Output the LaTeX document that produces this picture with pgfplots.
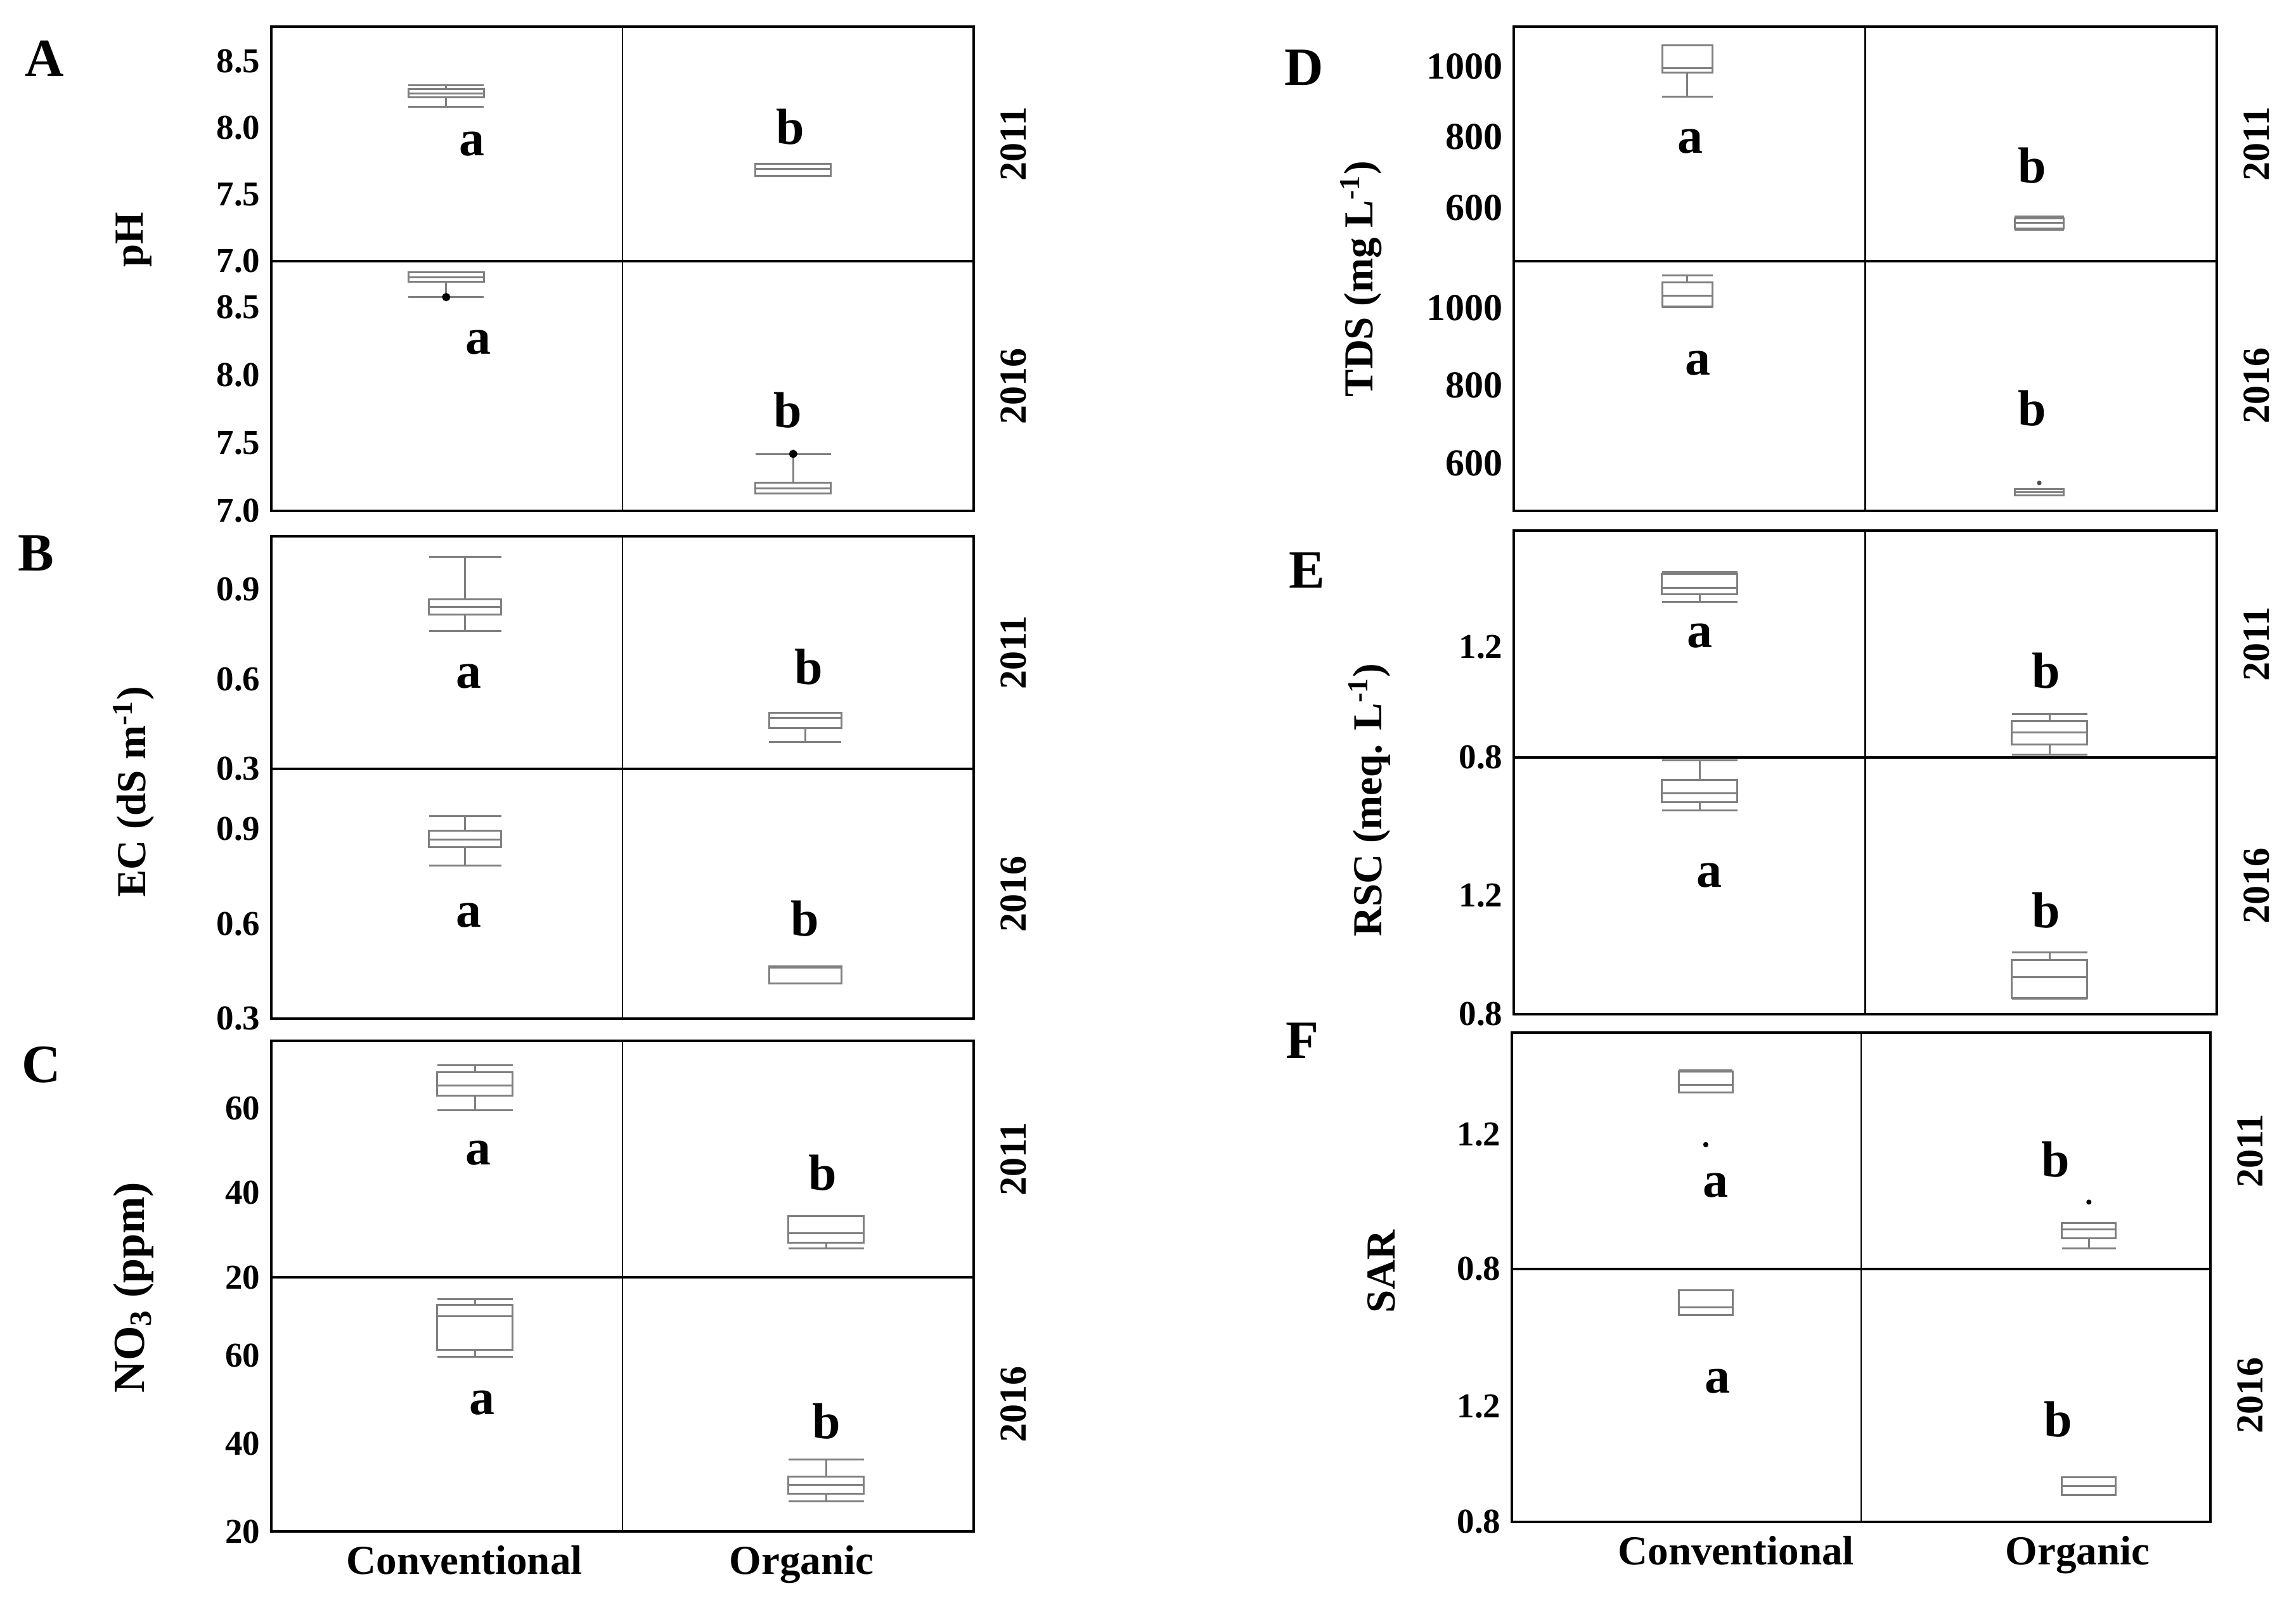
\documentclass[border=0pt]{standalone}
\usepackage{fontspec}
\setmainfont{Liberation Serif}
\usepackage{pgfplots}
\pgfplotsset{compat=1.18}
\usepgfplotslibrary{statistics}

\pgfplotsset{
  panel/.style={
    scale only axis, xmin=0, xmax=2,
    xtick=\empty,
    axis line style={black, line width=0.7pt},
    major tick length=0pt,
    /pgf/number format/assume math mode=true,
    yticklabel style={font=\fontsize{11}{12}\selectfont\bfseries, /pgf/number format/fixed, /pgf/number format/fixed zerofill, /pgf/number format/precision=1, /pgf/number format/1000 sep={}},
    extra x ticks={1}, extra x tick labels={},
    extra x tick style={grid=major, major grid style={black, line width=0.45pt}},
    clip=false,
    boxplot/draw direction=y,
  },
  intpanel/.style={yticklabel style={/pgf/number format/fixed zerofill=false, /pgf/number format/precision=0}},
  botpanel/.style={xtick={#1}, xticklabels={Conventional,Organic},
    xticklabel style={font=\fontsize{13}{14}\selectfont\bfseries, yshift=-1pt}},
}
\newcommand{\bx}[7]{\addplot[draw=black!50, line width=0.6pt,
  boxplot prepared={draw direction=y, draw position=#1, box extend=#2, whisker extend=#2,
  lower whisker=#3, lower quartile=#4, median=#5, upper quartile=#6, upper whisker=#7}] coordinates {};}
\newcommand{\lt}[3]{\node[font=\fontsize{16}{17}\selectfont\bfseries] at (axis cs:#1,#2) {#3};}
\newcommand{\yr}[1]{\node[rotate=90, font=\fontsize{12}{13}\selectfont\bfseries] at (rel axis cs:1.057,0.5) {#1};}

\begin{document}
\begin{tikzpicture}
\useasboundingbox (0,0) rectangle (724.4pt,504pt);

% ---------------- A: pH ----------------
\begin{axis}[panel, at={(85.6pt,421.6pt)}, anchor=south west, width=221.6pt, height=74pt,
  ymin=7, ymax=8.76, ytick={7,7.5,8,8.5}]
\bx{0.498}{0.215}{8.16}{8.23}{8.26}{8.29}{8.32}
\bx{1.486}{0.215}{7.64}{7.64}{7.69}{7.73}{7.73}
\lt{0.572}{7.88}{a}\lt{1.478}{8.01}{b}
\yr{2011}
\end{axis}
\begin{axis}[panel, at={(85.6pt,342.8pt)}, anchor=south west, width=221.6pt, height=78.8pt,
  ymin=7, ymax=8.84, ytick={7,7.5,8,8.5}]
\bx{0.498}{0.215}{8.575}{8.69}{8.72}{8.76}{8.76}
\bx{1.486}{0.215}{7.13}{7.13}{7.165}{7.21}{7.42}
\addplot[only marks, mark=*, mark size=1.1pt, black] coordinates {(0.498,8.575) (1.486,7.42)};
\lt{0.59}{8.24}{a}\lt{1.471}{7.74}{b}
\yr{2016}
\end{axis}

% ---------------- B: EC ----------------
\begin{axis}[panel, at={(85.6pt,261.4pt)}, anchor=south west, width=221.6pt, height=73.4pt,
  ymin=0.3, ymax=1.076, ytick={0.3,0.6,0.9}]
\bx{0.552}{0.206}{0.759}{0.815}{0.841}{0.866}{1.008}
\bx{1.52}{0.206}{0.39}{0.436}{0.47}{0.487}{0.487}
\lt{0.563}{0.609}{a}\lt{1.53}{0.64}{b}
\yr{2011}
\end{axis}
\begin{axis}[panel, at={(85.6pt,182.6pt)}, anchor=south west, width=221.6pt, height=78.8pt,
  ymin=0.3, ymax=1.09, ytick={0.3,0.6,0.9}]
\bx{0.552}{0.206}{0.785}{0.842}{0.867}{0.894}{0.941}
\bx{1.52}{0.206}{0.411}{0.411}{0.461}{0.466}{0.466}
\lt{0.563}{0.627}{a}\lt{1.52}{0.616}{b}
\yr{2016}
\end{axis}

% ---------------- C: NO3 ----------------
\begin{axis}[panel, intpanel, at={(85.6pt,101pt)}, anchor=south west, width=221.6pt, height=74.6pt,
  ymin=20, ymax=76, ytick={20,40,60}]
\bx{0.58}{0.215}{59.6}{63.0}{65.4}{68.5}{70.2}
\bx{1.58}{0.215}{26.8}{28.2}{30.5}{34.5}{34.5}
\lt{0.59}{49.4}{a}\lt{1.57}{44.7}{b}
\yr{2011}
\end{axis}
\begin{axis}[panel, intpanel, botpanel={0.55,1.51}, at={(85.6pt,20.8pt)}, anchor=south west, width=221.6pt, height=80.2pt,
  ymin=20, ymax=77.8, ytick={20,40,60}]
\bx{0.58}{0.215}{59.7}{61.3}{68.9}{71.5}{72.8}
\bx{1.58}{0.215}{26.9}{28.6}{30.6}{32.5}{36.4}
\lt{0.60}{49.2}{a}\lt{1.58}{45}{b}
\yr{2016}
\end{axis}

% ---------------- D: TDS ----------------
\begin{axis}[panel, intpanel, at={(477.6pt,421.6pt)}, anchor=south west, width=221.8pt, height=74pt,
  ymin=448, ymax=1113, ytick={600,800,1000},
  yticklabel style={font=\fontsize{12}{13}\selectfont\bfseries}]
\bx{0.494}{0.144}{915}{983}{995}{1060}{1060}
\bx{1.495}{0.14}{537}{540}{557}{570}{575}
\lt{0.503}{788}{a}\lt{1.475}{720}{b}
\yr{2011}
\end{axis}
\begin{axis}[panel, intpanel, at={(477.6pt,342.8pt)}, anchor=south west, width=221.8pt, height=78.8pt,
  ymin=477, ymax=1120, ytick={600,800,1000},
  yticklabel style={font=\fontsize{12}{13}\selectfont\bfseries}]
\bx{0.494}{0.144}{1002}{1004}{1031}{1066}{1084}
\bx{1.495}{0.14}{517}{517}{525}{534}{534}
\addplot[only marks, mark=*, mark size=0.5pt, black!70] coordinates {(1.495,549)};
\lt{0.523}{857}{a}\lt{1.475}{741}{b}
\yr{2016}
\end{axis}

% ---------------- E: RSC ----------------
\begin{axis}[panel, at={(477.6pt,265pt)}, anchor=south west, width=221.8pt, height=71.6pt,
  ymin=0.8, ymax=1.621, ytick={0.8,1.2}]
\bx{0.529}{0.215}{1.362}{1.391}{1.413}{1.465}{1.471}
\bx{1.524}{0.215}{0.81}{0.847}{0.89}{0.932}{0.958}
\lt{0.529}{1.239}{a}\lt{1.515}{1.114}{b}
\yr{2011}
\end{axis}
\begin{axis}[panel, at={(477.6pt,184pt)}, anchor=south west, width=221.8pt, height=81pt,
  ymin=0.8, ymax=1.666, ytick={0.8,1.2}]
\bx{0.529}{0.215}{1.487}{1.516}{1.545}{1.591}{1.657}
\bx{1.524}{0.215}{0.853}{0.855}{0.926}{0.982}{1.008}
\lt{0.557}{1.269}{a}\lt{1.515}{1.151}{b}
\yr{2016}
\end{axis}

% ---------------- F: SAR ----------------
\begin{axis}[panel, at={(477pt,103.6pt)}, anchor=south west, width=220.4pt, height=74.6pt,
  ymin=0.8, ymax=1.503, ytick={0.8,1.2}]
\bx{0.555}{0.154}{1.325}{1.325}{1.347}{1.387}{1.391}
\bx{1.652}{0.154}{0.862}{0.891}{0.917}{0.936}{0.936}
\addplot[only marks, mark=*, mark size=0.6pt, black] coordinates {(0.555,1.170) (1.652,0.999)};
\lt{0.583}{1.049}{a}\lt{1.557}{1.126}{b}
\yr{2011}
\end{axis}
\begin{axis}[panel, botpanel={0.642,1.62}, at={(477pt,23.8pt)}, anchor=south west, width=220.4pt, height=79.8pt,
  ymin=0.8, ymax=1.674, ytick={0.8,1.2}]
\bx{0.555}{0.154}{1.516}{1.516}{1.542}{1.6}{1.6}
\bx{1.652}{0.154}{0.894}{0.894}{0.923}{0.955}{0.955}
\lt{0.588}{1.286}{a}\lt{1.563}{1.155}{b}
\yr{2016}
\end{axis}

% ---------------- axis titles and panel letters ----------------
\begin{scope}[every node/.style={font=\fontsize{13}{14}\selectfont\bfseries}]
\node[rotate=90] at (42.2pt,428.4pt) {pH};
\node[rotate=90] at (42.2pt,254.2pt) {EC (dS m\textsuperscript{-1})};
\node[rotate=90, font=\fontsize{14}{15}\selectfont\bfseries] at (42.2pt,97.8pt) {NO\textsubscript{3} (ppm)};
\node[rotate=90] at (429.4pt,416pt) {TDS (mg L\textsuperscript{-1})};
\node[rotate=90] at (432pt,251.6pt) {RSC (meq. L\textsuperscript{-1})};
\node[rotate=90] at (435.8pt,102.8pt) {SAR};
\end{scope}
\begin{scope}[every node/.style={font=\fontsize{17}{18}\selectfont\bfseries}]
\node at (14pt,485.6pt) {A};
\node at (11.4pt,329.4pt) {B};
\node at (13pt,168pt) {C};
\node at (411.4pt,482.6pt) {D};
\node at (412.4pt,324pt) {E};
\node at (410.8pt,175.6pt) {F};
\end{scope}
\end{tikzpicture}
\end{document}
